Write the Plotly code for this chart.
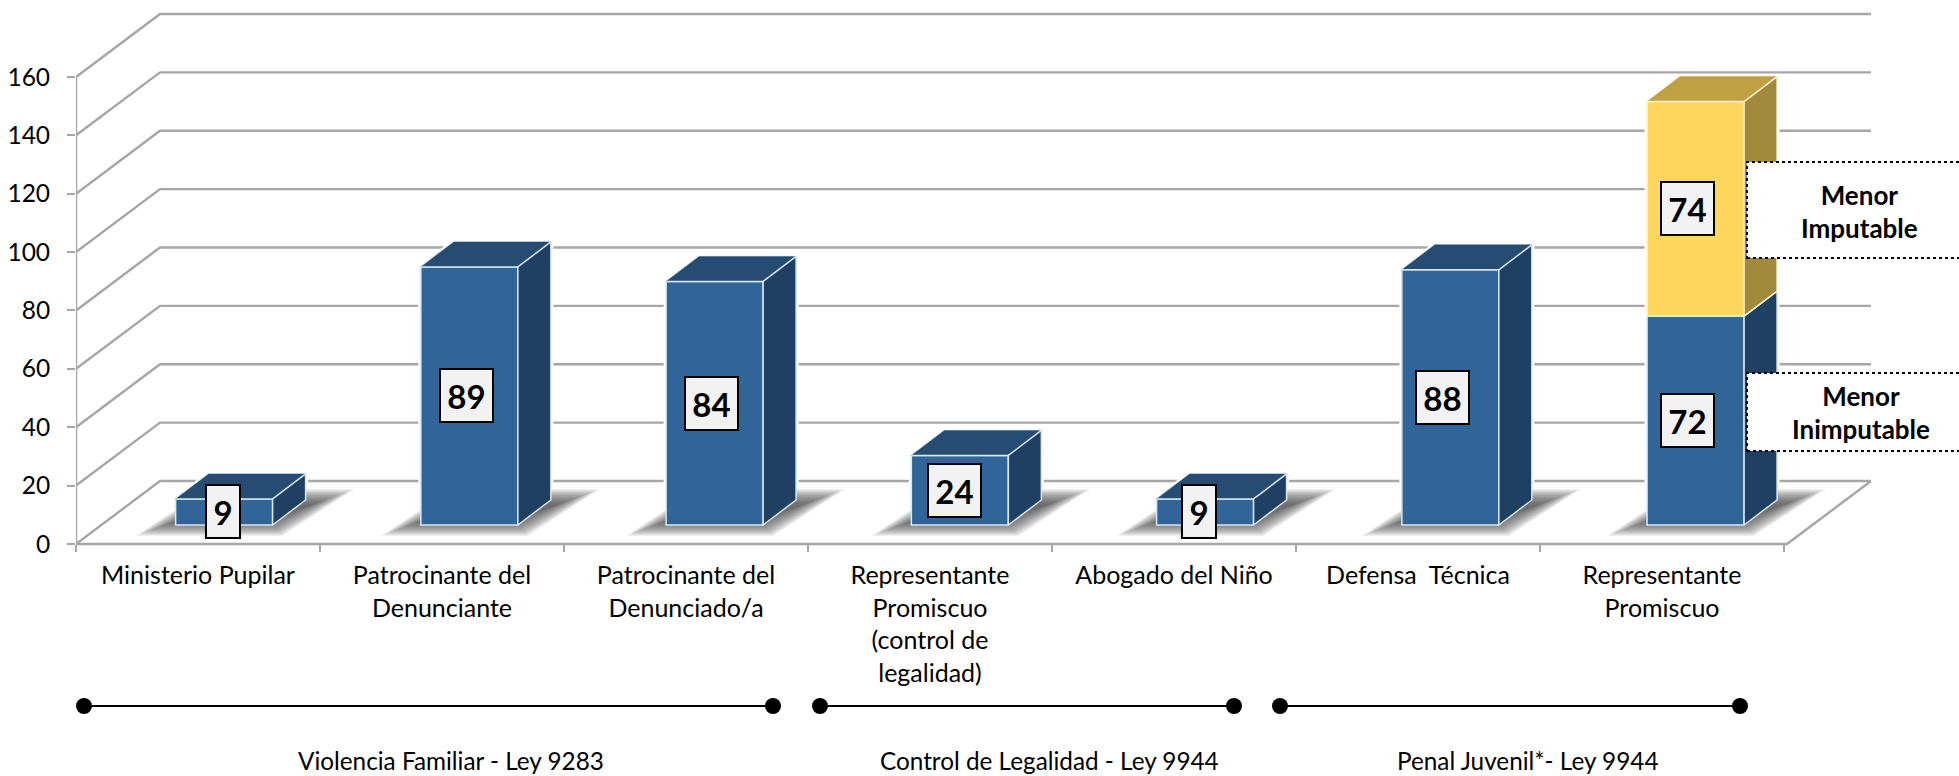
import plotly.graph_objects as go

# ---------- data ----------
categories = ["Ministerio Pupilar", "Patrocinante del<br>Denunciante", "Patrocinante del<br>Denunciado/a",
              "Representante<br>Promiscuo<br>(control de<br>legalidad)", "Abogado del Niño",
              "Defensa  Técnica", "Representante<br>Promiscuo"]
values_main = [9, 89, 84, 24, 9, 88, 72]
values_upper = [0, 0, 0, 0, 0, 0, 74]
y_ticks = [0, 20, 40, 60, 80, 100, 120, 140, 160]
group_names = ["Violencia Familiar - Ley 9283", "Control de Legalidad - Ley 9944", "Penal Juvenil*- Ley 9944"]
callout_names = ["Menor<br>Imputable", "Menor<br>Inimputable"]

# ---------- geometry ----------
W, H = 1959, 776
ML, AXIS_PY = 76, 544
PXU, PYU = 244.0, 2.919          # pixels per category / per value unit
def dx(px): return px / PXU
def dy(px): return px / PYU
def X(px): return (px - ML) / PXU - 0.5     # absolute pixel to x data
def Y(py): return (AXIS_PY - py) / PYU      # absolute pixel to y data

BAR_W = dx(97)
BAR_BASE = dy(19)
SCALE = 2.9 / PYU
D_X, D_Y = dx(33), dy(25)
WALL_X, WALL_Y = dx(84), dy(63)
X_END = X(1787)
bar_x = [i + 0.107 + 0.0051 * i for i in range(len(categories))]
label_shift = [-1, -2.5, -3, -5, -6, -8, -8.5]

GRID = "#A6A6A6"
EDGE = "#D8E8F3"
BLUE = ("#31659A", "#1F3F63", "#264C73")
GOLD = ("#FFD65C", "#A28A3C", "#BFA142")

def path(pts):
    return "M " + " L ".join(f"{a:.4f},{b:.4f}" for a, b in pts) + " Z"

def seg_path(pts):
    return "M " + " L ".join(f"{a:.4f},{b:.4f}" for a, b in pts)

shapes = []
# walls & gridlines
for t in y_ticks:
    shapes.append(dict(type="path", layer="below", xref="x", yref="y", line=dict(color=GRID, width=2.4),
                       path=seg_path([(-0.5, t), (-0.5 + WALL_X, t + WALL_Y), (X_END + WALL_X, t + WALL_Y)])))
shapes.append(dict(type="path", layer="below", xref="x", yref="y", line=dict(color=GRID, width=2.4),
                   path=seg_path([(-0.5, 0), (X_END, 0), (X_END + WALL_X, WALL_Y)])))

# white halo cutting gridlines around each bar, then floor shadow
for i, cx in enumerate(bar_x):
    x0, x1 = cx - BAR_W / 2, cx + BAR_W / 2
    top = BAR_BASE + (values_main[i] + values_upper[i]) * SCALE
    shapes.append(dict(type="path", layer="below", xref="x", yref="y", fillcolor="white",
                       line=dict(color="white", width=5),
                       path=path([(x0, BAR_BASE), (x0, top), (x0 + D_X, top + D_Y), (x1 + D_X, top + D_Y),
                                  (x1 + D_X, BAR_BASE + D_Y), (x1, BAR_BASE)])))
N_SHADOW = 20
for cx in bar_x:
    x0, x1 = cx - BAR_W / 2, cx + BAR_W / 2
    pts = [(x0 - dx(40), BAR_BASE - dy(11)), (x1 + dx(10), BAR_BASE - dy(11)),
           (x1 + dx(82), BAR_BASE + dy(36)), (x0 + dx(30), BAR_BASE + dy(36))]
    cxs, cys = sum(p[0] for p in pts) / 4, sum(p[1] for p in pts) / 4
    for k in range(N_SHADOW):
        fx = 1 - 0.02 * k
        fy = 1 - 0.035 * k
        shapes.append(dict(type="path", layer="below", xref="x", yref="y", line=dict(width=0),
                           fillcolor="rgba(70,70,70,0.07)",
                           path=path([(cxs + (a - cxs) * fx, cys + (b - cys) * fy) for a, b in pts])))

# callouts
callout_boxes = [(162, 258), (373, 451)]
for (t, b) in callout_boxes:
    shapes.append(dict(type="rect", layer="above", xref="x", yref="y", x0=X(1747), x1=X(1985), y0=Y(b), y1=Y(t),
                       fillcolor="white", line=dict(color="black", width=2, dash="dot")))

fig = go.Figure()

# front faces
fig.add_trace(go.Bar(x=bar_x, y=[v * SCALE for v in values_main], base=BAR_BASE, width=BAR_W,
                     marker=dict(color=BLUE[0], line=dict(color=EDGE, width=1.5)), hoverinfo="skip"))
upper_x = [c for c, u in zip(bar_x, values_upper) if u]
upper_y = [u * SCALE for u in values_upper if u]
upper_base = [BAR_BASE + m * SCALE for m, u in zip(values_main, values_upper) if u]
fig.add_trace(go.Bar(x=upper_x, y=upper_y, base=upper_base, width=BAR_W,
                     marker=dict(color=GOLD[0], line=dict(color="#FFF2CC", width=1.5)), hoverinfo="skip"))

def poly(pts, color, line=None):
    fig.add_trace(go.Scatter(x=[p[0] for p in pts] + [pts[0][0]], y=[p[1] for p in pts] + [pts[0][1]],
                             mode="lines", fill="toself", fillcolor=color,
                             line=dict(color=line or color, width=1.5 if line else 0.5), hoverinfo="skip"))

def box_sides(cx, lo, hi, colors, edge, with_top=True):
    x0, x1 = cx - BAR_W / 2, cx + BAR_W / 2
    if with_top:
        poly([(x0, hi), (x0 + D_X, hi + D_Y), (x1 + D_X, hi + D_Y), (x1, hi)], colors[2])
    poly([(x1, lo), (x1 + D_X, lo + D_Y), (x1 + D_X, hi + D_Y), (x1, hi)], colors[1], edge)
    fig.add_trace(go.Scatter(x=[x0, x1], y=[hi, hi], mode="lines", line=dict(color=edge, width=1.5), hoverinfo="skip"))

for i, cx in enumerate(bar_x):
    m_top = BAR_BASE + values_main[i] * SCALE
    box_sides(cx, BAR_BASE, m_top, BLUE, EDGE, with_top=not values_upper[i])
    if values_upper[i]:
        box_sides(cx, m_top, m_top + values_upper[i] * SCALE, GOLD, "#FFF2CC")

# y axis line
fig.add_trace(go.Scatter(x=[-0.5, -0.5], y=[y_ticks[0], y_ticks[-1]], mode="lines", cliponaxis=False,
                         line=dict(color=GRID, width=2.4), hoverinfo="skip"))

# group spans
group_spans = [(84, 773), (820, 1234), (1280, 1740)]
for a, b in group_spans:
    fig.add_trace(go.Scatter(x=[X(a), X(b)], y=[Y(706), Y(706)], mode="lines+markers", cliponaxis=False,
                             line=dict(color="black", width=2), marker=dict(color="black", size=16),
                             hoverinfo="skip"))

annotations = []
FONT = "Lato, Carlito, Calibri, sans-serif"
# value labels
for i, cx in enumerate(bar_x):
    lo = BAR_BASE
    for v in (values_main[i], values_upper[i]):
        if v:
            annotations.append(dict(x=cx + dx(label_shift[i]), y=lo + v * SCALE / 2, xref="x", yref="y",
                                    text=f"<b>{v}</b>", showarrow=False,
                                    width=51 if v >= 10 else 32, height=51, borderpad=0,
                                    bgcolor="#F2F2F2", bordercolor="black", borderwidth=2,
                                    font=dict(family=FONT, size=33, color="black"),
                                    xanchor="center", yanchor="middle", align="center", valign="middle"))
        lo += v * SCALE
# callout text
for name, xc, yc in zip(callout_names, (1859, 1861), (211, 412)):
    txt = "<br>".join(f'<b style="font-size:26px">{p}</b>' for p in name.split("<br>"))
    annotations.append(dict(x=X(xc), y=Y(yc), xref="x", yref="y", text=txt, showarrow=False,
                            font=dict(family=FONT, size=25.5, color="black"), align="center",
                            xanchor="center", yanchor="middle"))
# group labels
for name, xc in zip(group_names, (451, 1049.5, 1527)):
    annotations.append(dict(x=X(xc), y=Y(760), xref="x", yref="y", text=name, showarrow=False,
                            font=dict(family=FONT, size=24.3, color="black"), xanchor="center", yanchor="middle"))

fig.update_layout(
    width=W, height=H, autosize=False, showlegend=False, barmode="overlay",
    paper_bgcolor="white", plot_bgcolor="white",
    margin=dict(l=ML, r=0, t=0, b=0, pad=0),
    font=dict(family=FONT, color="black"),
    shapes=shapes, annotations=annotations,
    xaxis=dict(range=[-0.5, -0.5 + (W - ML) / PXU], tickmode="array", tickvals=list(range(len(categories))),
               ticktext=categories, tickfont=dict(family=FONT, size=25, color="black"), tickangle=0,
               ticks="", showgrid=False, zeroline=False, showline=False, ticklabelstandoff=14,
               anchor="free", position=(H - AXIS_PY) / H,
               minor=dict(tickmode="array", tickvals=[k - 0.5 for k in range(len(categories) + 1)],
                          ticks="outside", ticklen=7, tickwidth=1.5, tickcolor=GRID, showgrid=False)),
    yaxis=dict(range=[Y(H), Y(0)], domain=[0, 1], tickmode="array", tickvals=y_ticks, ticks="outside", ticklen=8,
               tickwidth=2, tickcolor=GRID, showgrid=False, zeroline=False, showline=False,
               tickfont=dict(family=FONT, size=24.5, color="black"), ticklabelstandoff=12),
)

fig.write_html("out.html", config={"displayModeBar": False},
               post_script="document.body.style.margin='0';document.body.style.overflow='hidden';")
